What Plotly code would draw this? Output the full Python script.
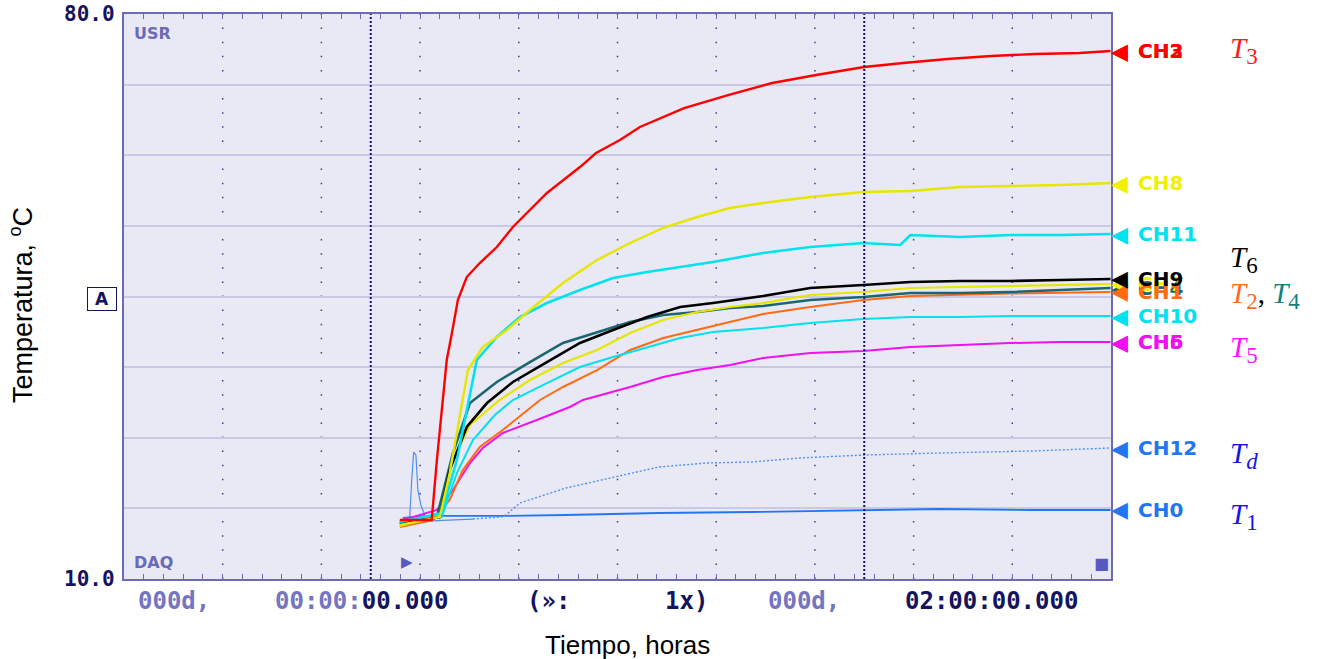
import numpy as np
import plotly.graph_objects as go

# ---------------------------------------------------------------
# Channel data: time in hours, temperature in degrees C
# ---------------------------------------------------------------
t_ch2 = [0.118, 0.247, 0.268, 0.288, 0.308, 0.329, 0.353, 0.389, 0.442, 0.511, 0.576,
         0.714, 0.848, 0.913, 1.010, 1.091, 1.270, 1.448, 1.627, 1.805, 2.000, 2.158, 2.337,
         2.515, 2.694, 2.872, 2.998]
T_ch2 = [17.31, 17.31, 24.74, 30.94, 37.13, 40.48, 44.57, 47.41, 49.15, 51.13, 53.61,
         57.82, 61.04, 62.78, 64.39, 66.00, 68.35, 69.96, 71.45, 72.44, 73.43, 73.93, 74.42,
         74.80, 75.04, 75.17, 75.41]

t_ch8 = [0.118, 0.280, 0.320, 0.361, 0.394, 0.454, 0.552, 0.645, 0.779, 0.917, 1.051, 1.185,
         1.323, 1.456, 1.590, 1.781, 1.996, 2.187, 2.389, 2.592, 2.795, 2.998]
T_ch8 = [16.69, 17.68, 23.13, 30.07, 35.89, 38.74, 40.85, 43.33, 46.67, 49.52, 51.63, 53.49,
         54.85, 55.96, 56.58, 57.33, 57.95, 58.07, 58.57, 58.69, 58.81, 59.06]

t_ch11 = [0.118, 0.288, 0.349, 0.389, 0.430, 0.511, 0.604, 0.714, 0.848, 0.982, 1.120, 1.254,
          1.387, 1.590, 1.781, 1.996, 2.146, 2.187, 2.389, 2.592, 2.795, 2.998]
T_ch11 = [17.06, 18.18, 24.74, 30.94, 37.13, 39.98, 42.46, 44.19, 45.80, 47.29, 48.03, 48.65,
          49.27, 50.39, 51.13, 51.63, 51.38, 52.62, 52.37, 52.62, 52.62, 52.74]

t_ch9 = [0.118, 0.280, 0.320, 0.389, 0.471, 0.576, 0.714, 0.848, 0.982, 1.120, 1.254, 1.387,
         1.590, 1.781, 1.996, 2.187, 2.389, 2.592, 2.795, 2.998]
T_ch9 = [16.81, 17.68, 23.50, 28.83, 31.80, 34.41, 36.88, 39.24, 40.85, 42.46, 43.70, 44.19,
         45.06, 46.05, 46.42, 46.80, 46.92, 46.92, 47.04, 47.17]

t_ch7 = [0.118, 0.280, 0.333, 0.402, 0.523, 0.645, 0.779, 0.917, 1.051, 1.185, 1.323, 1.456,
         1.590, 1.781, 1.996, 2.187, 2.389, 2.592, 2.795, 2.998]
T_ch7 = [16.57, 17.93, 24.74, 29.08, 32.18, 34.65, 36.76, 38.37, 40.48, 42.09, 43.08, 43.70,
         44.19, 45.19, 45.56, 46.05, 46.18, 46.30, 46.42, 46.55]

t_ch4 = [0.118, 0.268, 0.333, 0.402, 0.511, 0.645, 0.779, 0.917, 1.051, 1.185, 1.323, 1.456,
         1.590, 1.781, 1.996, 2.187, 2.389, 2.592, 2.795, 2.998]
T_ch4 = [16.94, 17.68, 25.61, 31.80, 34.41, 36.88, 39.24, 40.60, 41.84, 42.71, 43.08, 43.57,
         43.82, 44.57, 44.94, 45.43, 45.43, 45.56, 45.80, 46.05]

t_ch10 = [0.118, 0.288, 0.349, 0.414, 0.503, 0.576, 0.714, 0.848, 0.982, 1.120, 1.254, 1.387,
          1.590, 1.781, 1.996, 2.187, 2.389, 2.592, 2.795, 2.998]
T_ch10 = [16.81, 17.68, 23.13, 27.22, 30.32, 32.18, 34.28, 36.26, 37.50, 38.74, 39.86, 40.60,
          41.10, 41.72, 42.21, 42.46, 42.46, 42.58, 42.58, 42.58]

t_ch1 = [0.118, 0.252, 0.320, 0.373, 0.442, 0.535, 0.686, 0.779, 0.917, 1.051, 1.185, 1.323,
         1.456, 1.590, 1.781, 1.996, 2.187, 2.389, 2.592, 2.795, 2.998]
T_ch1 = [16.44, 17.31, 19.79, 23.50, 26.35, 28.46, 32.18, 33.79, 35.89, 38.37, 39.86, 40.85,
         41.84, 42.83, 43.70, 44.57, 45.06, 45.25, 45.36, 45.45, 45.56]

t_ch5 = [0.118, 0.268, 0.333, 0.402, 0.454, 0.535, 0.673, 0.807, 0.860, 1.051, 1.185, 1.323,
         1.456, 1.590, 1.781, 1.996, 2.187, 2.389, 2.592, 2.795, 2.998]
T_ch5 = [17.19, 18.55, 21.03, 24.37, 26.23, 28.09, 29.70, 31.31, 32.18, 33.79, 35.03, 35.89,
         36.51, 37.38, 38.00, 38.25, 38.74, 38.99, 39.24, 39.36, 39.36]

t_ch12 = [0.130, 0.158, 0.166, 0.174, 0.183, 0.191, 0.203, 0.219, 0.243, 0.414, 0.527, 0.548,
          0.604, 0.791, 0.982, 1.168, 1.359, 1.546, 1.736, 2.000, 2.304, 2.682, 2.998]
T_ch12 = [17.43, 17.68, 22.27, 25.73, 25.36, 21.03, 19.17, 17.93, 17.19, 17.43, 17.68, 17.93,
          19.42, 21.27, 22.64, 23.88, 24.37, 24.50, 24.99, 25.36, 25.61, 25.86, 26.23]
CH12_SPIKE_END = 9  # samples before this index are the start-up transient

t_ch0 = [0.130, 0.219, 0.280, 0.523, 0.791, 1.168, 1.546, 2.000, 2.304, 2.682, 2.998]
T_ch0 = [17.56, 17.81, 17.81, 17.81, 17.93, 18.18, 18.30, 18.55, 18.67, 18.55, 18.55]

# ---------------------------------------------------------------
# Styling
# ---------------------------------------------------------------
BORDER = "#6c6cb4"
BG = "#e9e9f5"
NAVY = "#14145e"
PALE = "#7474c2"

RED = "#ff0000"
YEL = "#e6e600"
YEL_TXT = "#f0f000"
CYN = "#00e2ee"
BLK = "#000000"
TEAL = "#1b6670"
ORG = "#ff6a13"
MAG = "#f010f0"
BLUE = "#2376f2"
LBLUE = "#4f8ff2"

X_RANGE = [-1.0, 3.0]
Y_RANGE = [10.0, 80.0]
X_DIV = 0.4
Y_DIV = 8.75

fig = go.Figure()

def add_line(t, T, color, width=1.8, dash=None, name=""):
    fig.add_trace(go.Scatter(x=t, y=T, mode="lines", name=name,
                             line=dict(color=color, width=width, dash=dash),
                             hoverinfo="skip", showlegend=False))

add_line(t_ch0, T_ch0, BLUE, 1.8, name="CH0")
add_line(t_ch12[:CH12_SPIKE_END + 1], T_ch12[:CH12_SPIKE_END + 1], LBLUE, 1.2, name="CH12")
add_line(t_ch12[CH12_SPIKE_END:], T_ch12[CH12_SPIKE_END:], LBLUE, 1.4, dash="2px,2px", name="CH12")
add_line(t_ch5, T_ch5, MAG, 2.0, name="CH5")
add_line(t_ch1, T_ch1, ORG, 2.0, name="CH1")
add_line(t_ch10, T_ch10, CYN, 2.0, name="CH10")
add_line(t_ch4, T_ch4, TEAL, 2.6, name="CH4")
add_line(t_ch7, T_ch7, YEL, 2.2, name="CH7")
add_line(t_ch9, T_ch9, BLK, 2.6, name="CH9")
add_line(t_ch11, T_ch11, CYN, 2.6, name="CH11")
add_line(t_ch8, T_ch8, YEL, 2.4, name="CH8")
add_line(t_ch2, T_ch2, RED, 2.4, name="CH2")

# ---------------------------------------------------------------
# Grid: dotted verticals, and the two time cursors
# ---------------------------------------------------------------
shapes = []
for gx in np.arange(X_RANGE[0] + X_DIV, X_RANGE[1] - 1e-6, X_DIV):
    shapes.append(dict(type="line", xref="x", yref="y", x0=gx, x1=gx, y0=Y_RANGE[0], y1=Y_RANGE[1],
                       line=dict(color="#3c3c88", width=1.5, dash="1.5px,12.6px"), layer="below"))
for cx in (0.0, 2.0):
    shapes.append(dict(type="line", xref="x", yref="y", x0=cx, x1=cx, y0=Y_RANGE[0], y1=Y_RANGE[1],
                       line=dict(color="#14146e", width=2, dash="2px,2px"), layer="above"))

# ---------------------------------------------------------------
# Annotations
# ---------------------------------------------------------------
ann = []
MONO = "DejaVu Sans Mono"
SANS = "DejaVu Sans"


def span(txt, col, size):
    return f"<span style='color:{col};font-size:{size}px'>{txt}</span>"


# y-range labels
for val in Y_RANGE:
    ann.append(dict(xref="paper", yref="y", x=0, y=val, xanchor="right", yanchor="middle",
                    xshift=-7, text=f"{val:.1f}", showarrow=False,
                    font=dict(family=MONO, size=21, color=NAVY, weight="bold")))

# reference marker "A"
ann.append(dict(xref="paper", yref="paper", x=0, y=0.4956, xshift=-22, xanchor="center",
                yanchor="middle", text="A", showarrow=False, bgcolor="white",
                bordercolor=NAVY, borderwidth=1, borderpad=2, width=24, height=18,
                font=dict(family=SANS, size=17, color=NAVY, weight="bold")))

# corner tags
ann.append(dict(xref="paper", yref="paper", x=0, y=0.966, xshift=8, xanchor="left",
                yanchor="middle", text="USR", showarrow=False,
                font=dict(family=SANS, size=16, color="#6a6ab8", weight="bold")))
ann.append(dict(xref="paper", yref="paper", x=0, y=0.030, xshift=8, xanchor="left",
                yanchor="middle", text="DAQ", showarrow=False,
                font=dict(family=SANS, size=16, color="#6a6ab8", weight="bold")))
ann.append(dict(xref="paper", yref="paper", x=0.2867, y=0.030, xanchor="center",
                yanchor="middle", text="▶", showarrow=False,
                font=dict(family=SANS, size=15, color="#5858c0")))
ann.append(dict(xref="paper", yref="paper", x=0.990, y=0.028, xanchor="center",
                yanchor="middle", text="■", showarrow=False,
                font=dict(family=SANS, size=16, color="#5858c0")))

# time read-out along the bottom
BSZ = 24
bottom = [
    (0.0507, span("000d,", PALE, BSZ)),
    (0.2406, span("00:00:", PALE, BSZ) + span("00.000", NAVY, BSZ)),
    (0.430, span("(»:", NAVY, BSZ)),
    (0.570, span("1x)", NAVY, BSZ)),
    (0.689, span("000d,", PALE, BSZ)),
    (0.879, span("02:00:00.000", NAVY, BSZ)),
]
for bx, txt in bottom:
    ann.append(dict(xref="paper", yref="paper", x=bx, y=-0.039, xanchor="center",
                    yanchor="middle", text=txt, showarrow=False,
                    font=dict(family=MONO, size=BSZ, color=NAVY, weight="bold")))

# channel markers at the right edge (drawn at each trace's final value)
channels = [
    ("CH3", T_ch2[-1], RED), ("CH2", T_ch2[-1], RED),
    ("CH8", T_ch8[-1], YEL_TXT),
    ("CH11", T_ch11[-1], CYN),
    ("CH4", T_ch4[-1], TEAL), ("CH7", T_ch7[-1], YEL_TXT),
    ("CH1", T_ch1[-1], ORG), ("CH9", T_ch9[-1], BLK),
    ("CH10", T_ch10[-1], CYN),
    ("CH5", T_ch5[-1], MAG), ("CH6", T_ch5[-1], MAG),
    ("CH12", T_ch12[-1], BLUE),
    ("CH0", T_ch0[-1], BLUE),
]
for label, yv, col in channels:
    ann.append(dict(xref="paper", yref="y", x=1, y=yv, xanchor="left", yanchor="middle",
                    xshift=-2, text="◀", showarrow=False,
                    font=dict(family=SANS, size=22, color=col)))
    ann.append(dict(xref="paper", yref="y", x=1, y=yv, xanchor="left", yanchor="middle",
                    xshift=25, text=label, showarrow=False,
                    font=dict(family=SANS, size=20, color=col, weight="bold")))

# symbol labels
SSZ = 29


def sym(sub, col, italic_sub=False):
    s = f"<i>{sub}</i>" if italic_sub else sub
    return (f"<span style='color:{col};font-size:{SSZ}px'><i>T</i>"
            f"<sub><span style='font-size:{int(SSZ * 0.8)}px'>{s}</span></sub></span>")


symbols = [
    (0.936, sym("3", "#ff1a1a")),
    (0.565, sym("6", "#000000")),
    (0.501, sym("2", "#ff6a1a") + span(", ", "#000000", SSZ) + sym("4", "#128080")),
    (0.407, sym("5", "#ff10ff")),
    (0.219, sym("d", "#1414e6", italic_sub=True)),
    (0.110, sym("1", "#1414e6")),
]
for sy, txt in symbols:
    ann.append(dict(xref="paper", yref="paper", x=1.1185, y=sy, xanchor="left",
                    yanchor="middle", text=txt, showarrow=False,
                    font=dict(family="Liberation Serif", size=SSZ, color="#000000")))

# axis titles
ann.append(dict(xref="paper", yref="paper", x=0.5106, y=-0.1168, xanchor="center",
                yanchor="middle", text="Tiempo, horas", showarrow=False,
                font=dict(family="Liberation Sans", size=26, color="#000000")))
ann.append(dict(xref="paper", yref="paper", x=-0.1033, y=0.485, xanchor="center",
                yanchor="middle",
                text="Temperatura, <sup><span style='font-size:18px'>o</span></sup>C",
                textangle=-90, showarrow=False,
                font=dict(family="Liberation Sans", size=27, color="#000000")))

fig.update_layout(
    width=1319, height=659, autosize=False,
    margin=dict(l=124, r=208, t=14, b=80),
    paper_bgcolor="white", plot_bgcolor=BG,
    showlegend=False,
    xaxis=dict(range=X_RANGE, showgrid=False, zeroline=False, showline=True,
               linecolor=BORDER, linewidth=2, mirror="ticks", ticks="inside",
               ticklen=5, tickwidth=1, tickcolor=BORDER, tick0=X_RANGE[0],
               dtick=X_DIV / 5, showticklabels=False, fixedrange=True),
    yaxis=dict(range=Y_RANGE, showgrid=True, gridcolor="#c9c9e6", gridwidth=2,
               tick0=Y_RANGE[0], dtick=Y_DIV, zeroline=False, showline=True,
               linecolor=BORDER, linewidth=2, mirror=True, ticks="",
               showticklabels=False, fixedrange=True),
    shapes=shapes,
    annotations=ann,
)

fig.write_html("out.html", config={"displayModeBar": False})
